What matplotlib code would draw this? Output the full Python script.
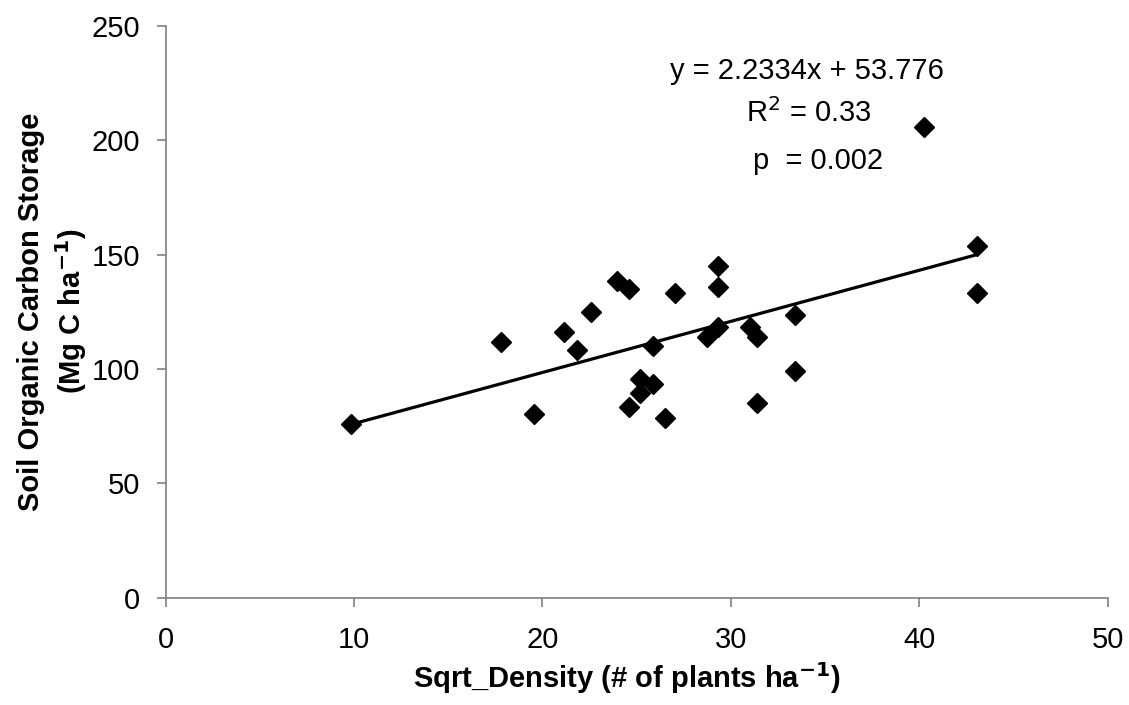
import matplotlib.pyplot as plt
import numpy as np

plt.rcParams['font.family'] = ['Liberation Sans', 'DejaVu Sans']

# square root of plant density vs soil organic carbon storage
sqrt_density = [9.82, 17.80, 19.55, 21.14, 21.85, 22.56, 23.96, 24.60, 24.60, 25.18,
                25.18, 25.89, 25.89, 26.52, 27.02, 29.34, 29.34, 29.34, 28.72,
                31.02, 31.38, 31.38, 33.39, 33.39, 40.26, 43.06, 43.06]
soc_storage = [75.9, 111.9, 80.2, 116.0, 108.4, 125.0, 138.5, 134.9, 83.5, 95.6,
               89.6, 93.3, 109.9, 78.4, 133.3, 145.1, 135.9, 118.4, 114.1,
               118.4, 114.1, 85.2, 123.4, 99.2, 205.9, 153.8, 133.3]

slope = 2.2334
intercept = 53.776
r2 = 0.33
p_value = 0.002

x_ticks = [0, 10, 20, 30, 40, 50]
y_ticks = [0, 50, 100, 150, 200, 250]

fig = plt.figure(figsize=(11.29, 7.05), dpi=100)
ax = fig.add_axes([0.1468, 0.1522, 0.8342, 0.8113])

ax.plot(sqrt_density, soc_storage, linestyle='none', marker='D', ms=10,
        color='black', zorder=3)

# trend line over the observed range
xs = np.array([min(sqrt_density), max(sqrt_density)])
ax.plot(xs, slope * xs + intercept, color='black', lw=2.3, zorder=2)

ax.set_xlim(0, 50)
ax.set_ylim(0, 250)
ax.set_xticks(x_ticks)
ax.set_yticks(y_ticks)

for side in ['top', 'right']:
    ax.spines[side].set_visible(False)
for side in ['left', 'bottom']:
    ax.spines[side].set_color('#808080')
    ax.spines[side].set_linewidth(1.2)
ax.tick_params(direction='out', length=6.5, width=1.2, color='#808080',
               labelsize=21)
ax.tick_params(axis='y', pad=12)
ax.tick_params(axis='x', pad=14)

ax.set_xlabel('Sqrt_Density (# of plants ha$^{\\mathbf{-1}}$)',
              fontsize=21, fontweight='bold', labelpad=4)
ax.xaxis.label.set_x(0.49)
ax.set_ylabel('Soil Organic Carbon Storage\n(Mg C ha$^{\\mathbf{-1}}$)',
              fontsize=21, fontweight='bold', linespacing=1.3)
ax.yaxis.set_label_coords(-0.081, 0.5)

ax.text(0.681, 0.907, f'y = {slope}x + {intercept}', transform=ax.transAxes,
        ha='center', va='baseline', fontsize=21)
ax.text(0.683, 0.831, f'R$^2$ = {r2}', transform=ax.transAxes,
        ha='center', va='baseline', fontsize=21)
ax.text(0.693, 0.750, f'p  = {p_value}', transform=ax.transAxes,
        ha='center', va='baseline', fontsize=21)

fig.savefig('out.png')
